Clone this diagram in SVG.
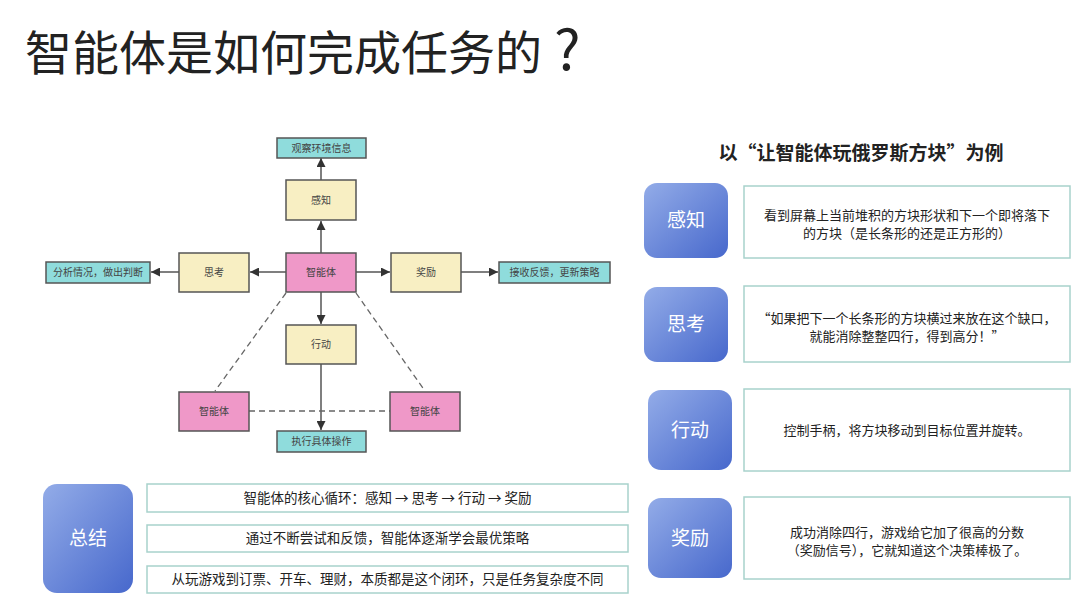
<svg xmlns="http://www.w3.org/2000/svg" width="1080" height="608" viewBox="0 0 1080 608">
<defs>
<style>
text{font-family:"Noto Sans CJK SC","Noto Sans",sans-serif;}
.title{font-size:47px;fill:#222;}
.sub{font-size:19px;font-weight:bold;fill:#222;text-anchor:middle;}
.n{stroke:#555;stroke-width:1.5;}
.yel{fill:#f8efc3;}
.pink{fill:#ef98c8;}
.teal{fill:#8fdcdc;}
.nt{font-size:10px;fill:#444;text-anchor:middle;}
.conn{stroke:#555;stroke-width:1.5;fill:none;}
.dash{stroke:#666;stroke-width:1.3;fill:none;stroke-dasharray:6 4;}
.blue{fill:url(#bg);}
.bt{font-size:19px;fill:#fff;text-anchor:middle;}
.tb{fill:#fff;stroke:#a8d2cc;stroke-width:1.5;}
.tt{font-size:13px;fill:#222;text-anchor:middle;}
.st{font-size:13.5px;fill:#222;text-anchor:middle;}
</style>
<linearGradient id="bg" x1="0" y1="0" x2="1" y2="1">
<stop offset="0" stop-color="#93ace8"/>
<stop offset="1" stop-color="#4768cc"/>
</linearGradient>
<marker id="ah" markerWidth="9" markerHeight="9" refX="9" refY="4.5" orient="auto" markerUnits="userSpaceOnUse">
<path d="M0,0 L9,4.5 L0,9 z" fill="#333"/>
</marker>
</defs>
<rect width="1080" height="608" fill="#fff"/>
<text class="title" x="25" y="70">智能体是如何完成任务的<tspan dx="12" font-size="56">?</tspan></text>

<g id="connectors">
<line class="conn" x1="321" y1="253" x2="321" y2="221" marker-end="url(#ah)"/>
<line class="conn" x1="321" y1="180" x2="321" y2="158" marker-end="url(#ah)"/>
<line class="conn" x1="286" y1="272" x2="250" y2="272" marker-end="url(#ah)"/>
<line class="conn" x1="179" y1="272" x2="151" y2="272" marker-end="url(#ah)"/>
<line class="conn" x1="356" y1="272" x2="390" y2="272" marker-end="url(#ah)"/>
<line class="conn" x1="461" y1="272" x2="498" y2="272" marker-end="url(#ah)"/>
<line class="conn" x1="321" y1="292" x2="321" y2="324" marker-end="url(#ah)"/>
<line class="conn" x1="321" y1="364" x2="321" y2="430" marker-end="url(#ah)"/>
<line class="dash" x1="286" y1="293" x2="215" y2="391"/>
<line class="dash" x1="356" y1="293" x2="425" y2="391"/>
<line class="dash" x1="249" y1="411" x2="390" y2="411"/>
</g>

<g id="n-observe"><rect class="n teal" x="277" y="138" width="89" height="20"/><text class="nt" x="321.5" y="151.5">观察环境信息</text></g>
<g id="n-perceive"><rect class="n yel" x="286" y="180" width="70" height="40"/><text class="nt" x="321" y="203.5">感知</text></g>
<g id="n-agent"><rect class="n pink" x="286" y="253" width="70" height="39"/><text class="nt" x="321" y="276">智能体</text></g>
<g id="n-think"><rect class="n yel" x="179" y="253" width="70" height="39"/><text class="nt" x="214" y="276">思考</text></g>
<g id="n-analyze"><rect class="n teal" x="46" y="262" width="104" height="21"/><text class="nt" x="98" y="276">分析情况，做出判断</text></g>
<g id="n-reward"><rect class="n yel" x="391" y="253" width="70" height="39"/><text class="nt" x="426" y="276">奖励</text></g>
<g id="n-feedback"><rect class="n teal" x="499" y="262" width="111" height="21"/><text class="nt" x="554.5" y="276">接收反馈，更新策略</text></g>
<g id="n-act"><rect class="n yel" x="286" y="325" width="70" height="39"/><text class="nt" x="321" y="348">行动</text></g>
<g id="n-agent-l"><rect class="n pink" x="179" y="392" width="70" height="39"/><text class="nt" x="214" y="415">智能体</text></g>
<g id="n-agent-r"><rect class="n pink" x="390" y="392" width="70" height="39"/><text class="nt" x="425" y="415">智能体</text></g>
<g id="n-exec"><rect class="n teal" x="277" y="431" width="89" height="21"/><text class="nt" x="321.5" y="445">执行具体操作</text></g>

<text class="sub" x="861" y="160">以“让智能体玩俄罗斯方块”为例</text>

<g id="r-perceive">
<rect class="blue" x="644" y="183" width="84" height="75" rx="13"/><text class="bt" x="686" y="227">感知</text>
<rect class="tb" x="744" y="186" width="326" height="72"/>
<text class="tt" x="907" y="220">看到屏幕上当前堆积的方块形状和下一个即将落下</text>
<text class="tt" x="907" y="238">的方块（是长条形的还是正方形的）</text>
</g>
<g id="r-think">
<rect class="blue" x="644" y="287" width="84" height="75" rx="13"/><text class="bt" x="686" y="331">思考</text>
<rect class="tb" x="744" y="286" width="326" height="76"/>
<text class="tt" x="907" y="323">“如果把下一个长条形的方块横过来放在这个缺口，</text>
<text class="tt" x="907" y="341">就能消除整整四行，得到高分！”</text>
</g>
<g id="r-act">
<rect class="blue" x="648" y="390" width="84" height="80" rx="13"/><text class="bt" x="690" y="437">行动</text>
<rect class="tb" x="744" y="389" width="326" height="82"/>
<text class="tt" x="907" y="435">控制手柄，将方块移动到目标位置并旋转。</text>
</g>
<g id="r-reward">
<rect class="blue" x="648" y="498" width="84" height="80" rx="13"/><text class="bt" x="690" y="545">奖励</text>
<rect class="tb" x="744" y="497" width="326" height="82"/>
<text class="tt" x="907" y="537">成功消除四行，游戏给它加了很高的分数</text>
<text class="tt" x="907" y="555">（奖励信号），它就知道这个决策棒极了。</text>
</g>

<g id="summary">
<rect class="blue" x="43" y="484" width="90" height="109" rx="14"/><text class="bt" x="88" y="545">总结</text>
<rect class="tb" x="147" y="484" width="481" height="28"/>
<text class="st" x="387.5" y="503">智能体的核心循环：感知 → 思考 → 行动 → 奖励</text>
<rect class="tb" x="147" y="525" width="481" height="27"/>
<text class="st" x="387.5" y="543">通过不断尝试和反馈，智能体逐渐学会最优策略</text>
<rect class="tb" x="147" y="566" width="481" height="27"/>
<text class="st" x="387.5" y="584">从玩游戏到订票、开车、理财，本质都是这个闭环，只是任务复杂度不同</text>
</g>
</svg>
